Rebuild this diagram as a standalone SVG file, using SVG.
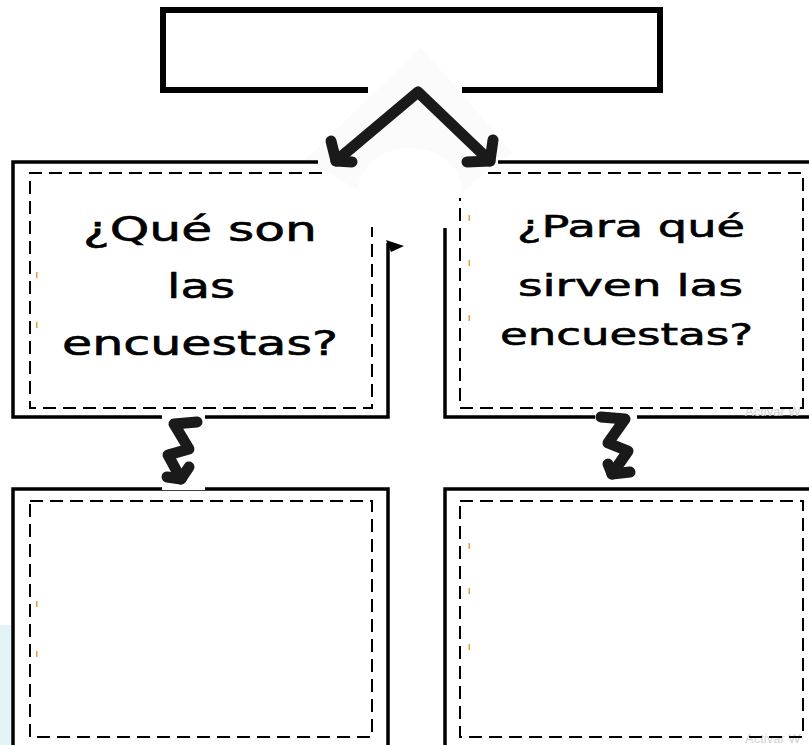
<svg xmlns="http://www.w3.org/2000/svg" width="809" height="745" viewBox="0 0 809 745">
<style>
.frame{fill:none;stroke:#000;stroke-width:3.5;stroke-linecap:butt;stroke-linejoin:miter}
.dash{fill:none;stroke:#000;stroke-width:2;stroke-dasharray:13 7}
.conn{fill:none;stroke:#1a1a1a;stroke-width:11;stroke-linecap:round;stroke-linejoin:round}
.lbl{font-family:"DejaVu Sans",sans-serif;fill:#000;stroke:#000;stroke-width:0.6}
.tick{fill:#e0a040}
.wm{font-family:"Liberation Sans",Arial,sans-serif;font-size:13px;fill:#d2d2d2}
</style>
<rect x="0" y="0" width="809" height="745" fill="#fff"/>
<rect x="0" y="625" width="11" height="120" fill="#e2f4f5"/>
<polygon points="421,47 512,152 421,225 305,160" fill="#fbfbfb"/>
<ellipse cx="410" cy="190" rx="52" ry="42" fill="#fff"/>

<g id="title">
<path d="M368,90 H163 V10 H660 V90 H462" fill="none" stroke="#000" stroke-width="6"/>
</g>

<g id="box-que-son">
<path class="frame" d="M318,162 H13 V417 H388 V243"/>
<polygon points="386,240 404,246 391,252" fill="#000"/>
<path class="dash" d="M322,173 H30 V408 H372 V227"/>
<rect class="tick" x="36" y="272" width="1.5" height="6"/>
<rect class="tick" x="36" y="322" width="1.5" height="6"/>
<text class="lbl" font-size="34" x="83" y="241" textLength="234" lengthAdjust="spacingAndGlyphs">¿Qué son</text>
<text class="lbl" font-size="34" x="167" y="298" textLength="68" lengthAdjust="spacingAndGlyphs">las</text>
<text class="lbl" font-size="34" x="62" y="355" textLength="276" lengthAdjust="spacingAndGlyphs">encuestas?</text>
</g>

<g id="box-para-que">
<path class="frame" d="M498,162 H809"/>
<path class="frame" d="M445,228 V417 H809"/>
<text class="wm" x="745" y="416">Activar W</text>
<path class="dash" d="M488,173 H803 V408 H460 V198"/>
<rect class="tick" x="468.5" y="215" width="1.5" height="6"/>
<rect class="tick" x="468.5" y="260" width="1.5" height="6"/>
<rect class="tick" x="468.5" y="315" width="1.5" height="6"/>
<text class="lbl" font-size="31" x="517" y="237" textLength="228" lengthAdjust="spacingAndGlyphs">¿Para qué</text>
<text class="lbl" font-size="31" x="518" y="296" textLength="225" lengthAdjust="spacingAndGlyphs">sirven las</text>
<text class="lbl" font-size="31" x="500" y="345" textLength="253" lengthAdjust="spacingAndGlyphs">encuestas?</text>
</g>

<g id="box-bottom-left">
<path class="frame" d="M13,745 V489 H388 V745"/>
<rect class="dash" x="30" y="501" width="342" height="236"/>
<rect class="tick" x="36" y="601" width="1.5" height="6"/>
<rect class="tick" x="36" y="651" width="1.5" height="6"/>
</g>

<g id="box-bottom-right">
<path class="frame" d="M445,745 V489 H809"/>
<text class="wm" x="745" y="743">Activar W</text>
<rect class="dash" x="460" y="501" width="343" height="236"/>
<rect class="tick" x="468.5" y="543" width="1.5" height="6"/>
<rect class="tick" x="468.5" y="588" width="1.5" height="6"/>
<rect class="tick" x="468.5" y="644" width="1.5" height="6"/>
</g>

<g id="connectors">
<rect x="162" y="412" width="43" height="78" fill="#fff"/>
<rect x="595" y="411" width="42" height="74" fill="#fff"/>
<path class="conn" d="M336,161 L418,92 L490,161"/>
<path class="conn" d="M331,141 L336,161 L352,162"/>
<path class="conn" d="M493,140 L490,161 L467,162"/>
<path class="conn" d="M197,422 L174,424 L189,449 L168,455 L181,479"/>
<path class="conn" d="M167,477 L181,479 L189,467"/>
<path class="conn" d="M601,417 L625,419 L608,443 L628,451 L612,474"/>
<path class="conn" d="M608,464 L612,474 L630,472"/>
</g>
</svg>
